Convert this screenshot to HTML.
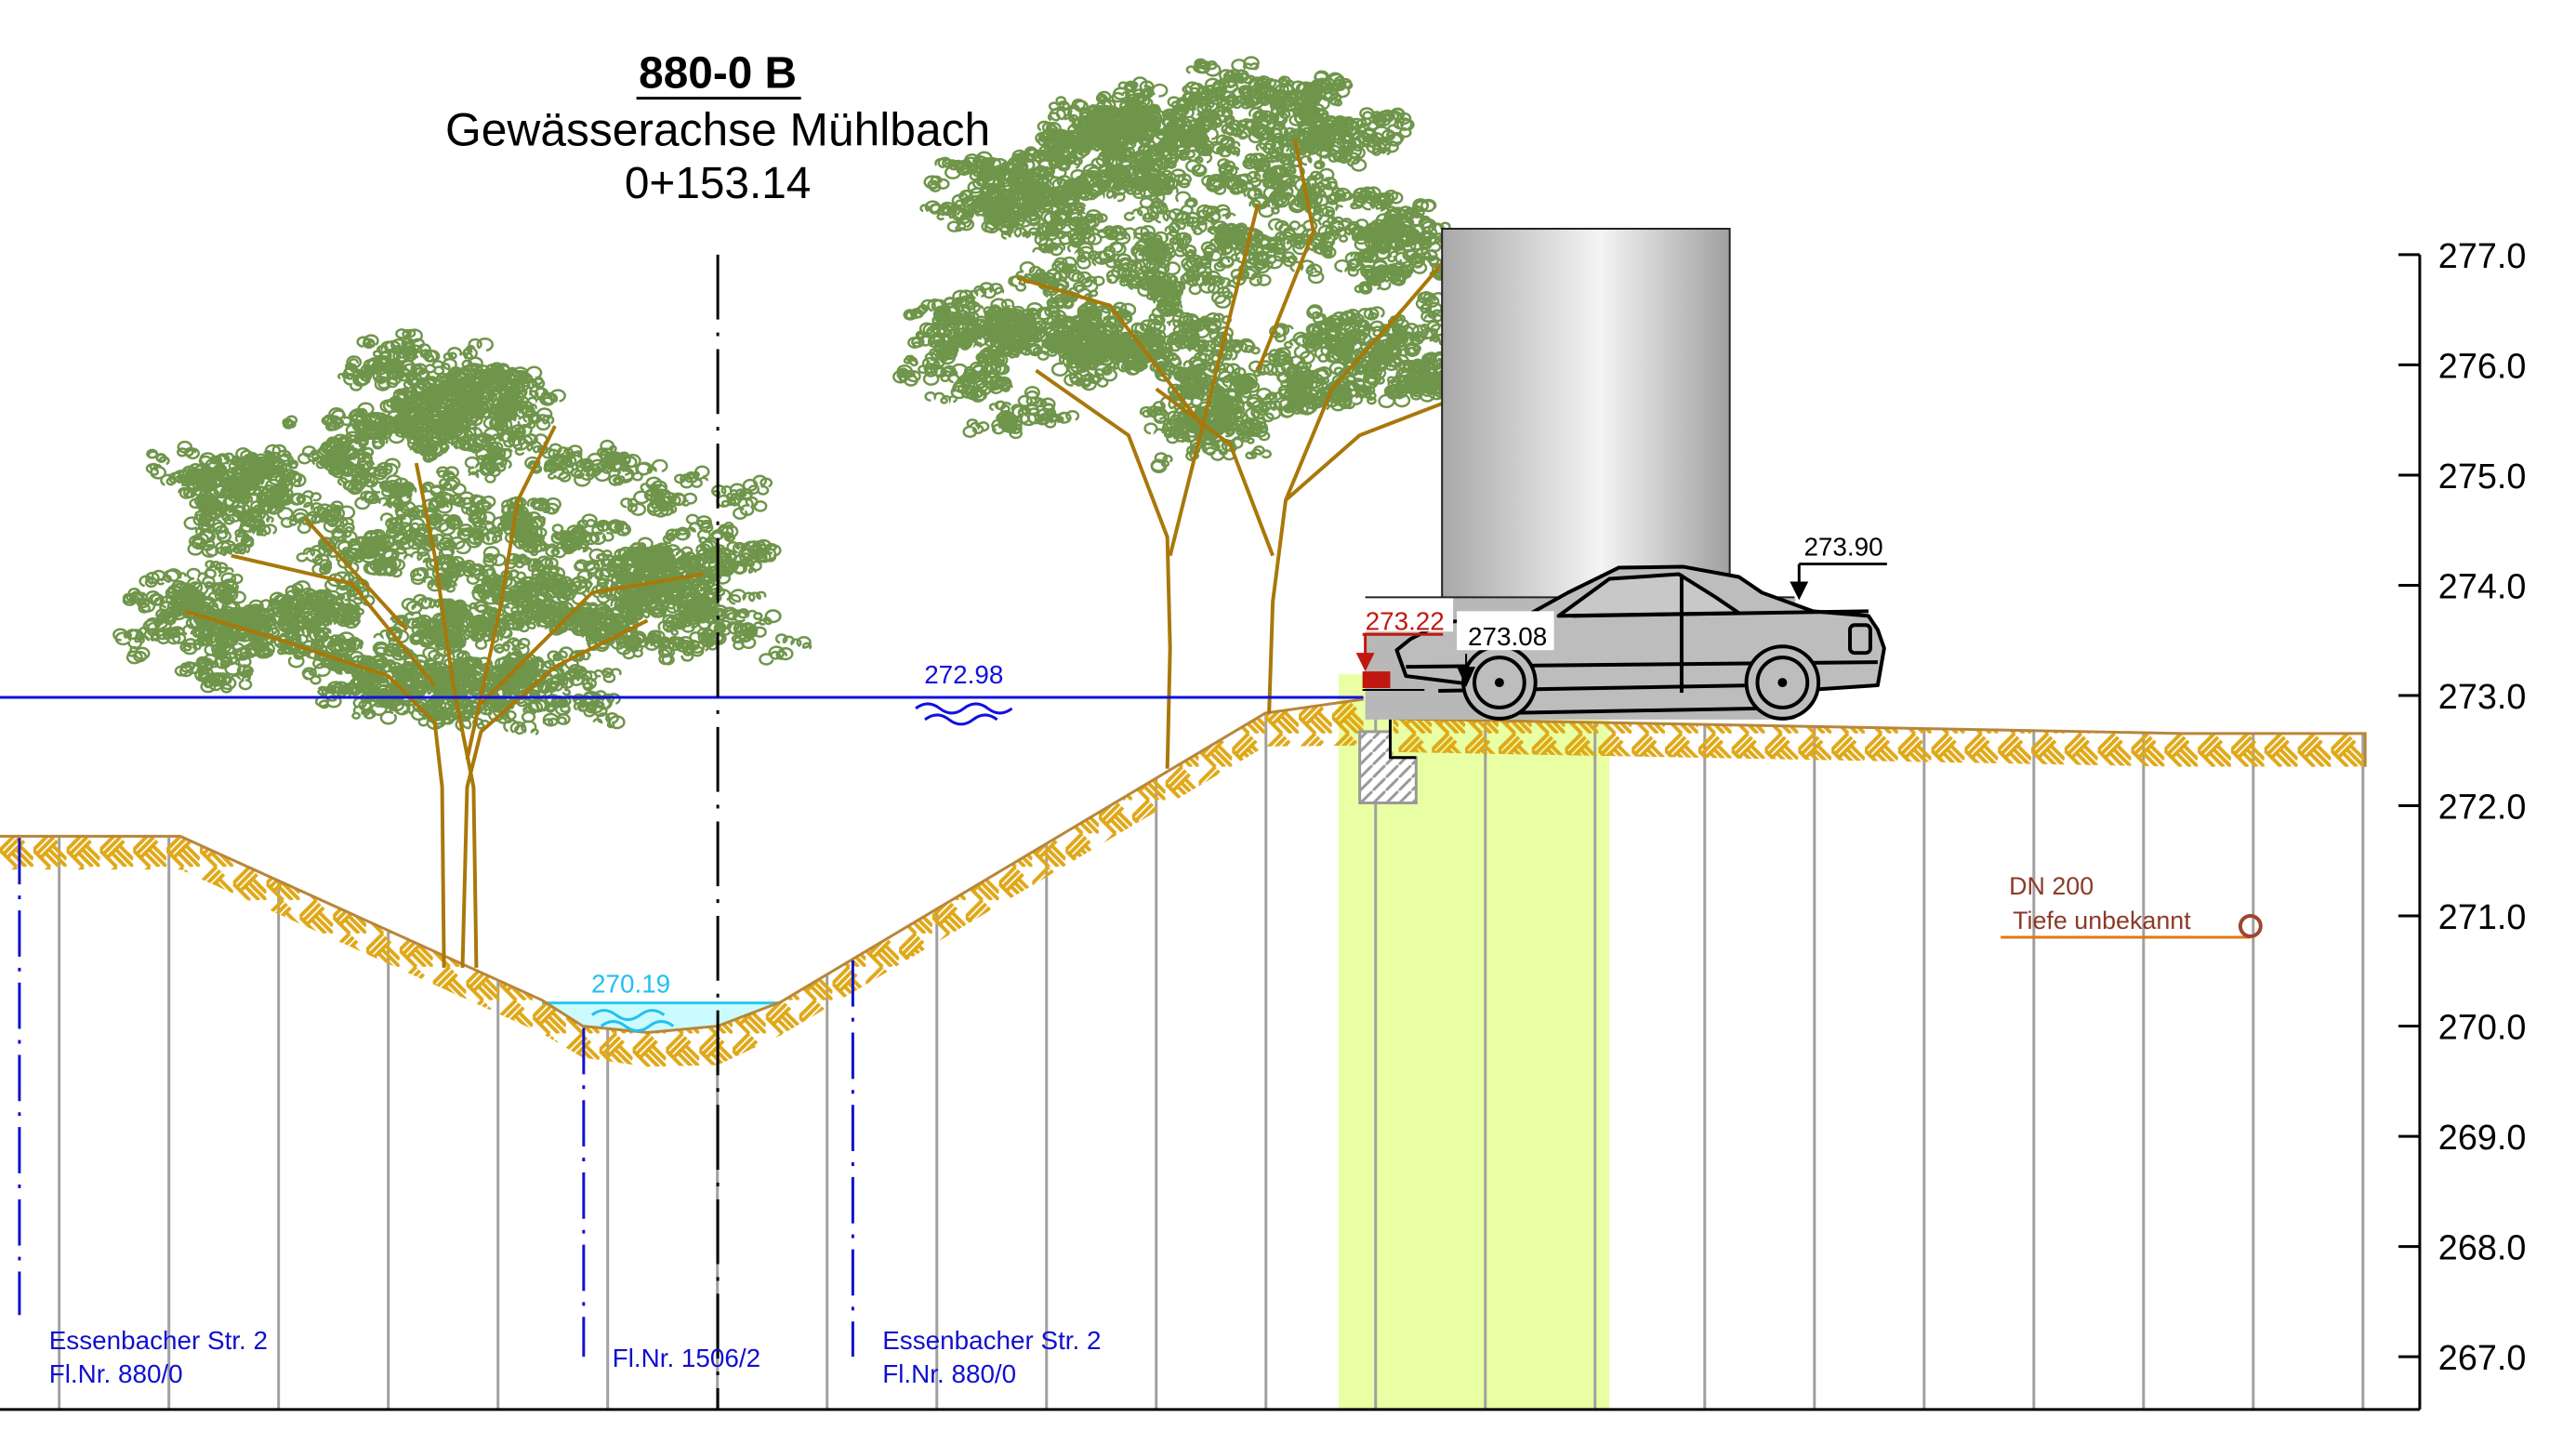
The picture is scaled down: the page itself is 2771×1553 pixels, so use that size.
<!DOCTYPE html>
<html><head><meta charset="utf-8">
<style>
html,body{margin:0;padding:0;background:#fff;}
svg{display:block;}
text{font-family:"Liberation Sans",sans-serif;}
</style></head>
<body>
<svg id="s" xmlns="http://www.w3.org/2000/svg" width="2771" height="1553" viewBox="0 0 2771 1553">
<defs>
<pattern id="hatch" width="36" height="36" patternUnits="userSpaceOnUse">
<g stroke="#e0a818" stroke-width="4" fill="none">
<path d="M0 18 L18 0 M4 22 L22 4 M8 26 L26 8"/>
<path d="M18 18 L36 36 M22 14 L36 28 M14 22 L28 36 M18 36 L0 18"/>
</g>
</pattern>
<pattern id="wallh" width="14" height="14" patternUnits="userSpaceOnUse">
<rect width="14" height="14" fill="#fff"/>
<path d="M0 14 L14 0" stroke="#999" stroke-width="3"/>
</pattern>
<linearGradient id="bld" x1="0" x2="1" y1="0" y2="0">
<stop offset="0" stop-color="#a8a8a8"/><stop offset="0.55" stop-color="#f4f4f4"/><stop offset="1" stop-color="#a0a0a0"/>
</linearGradient>
<clipPath id="band"><path d="M0 903 L195 903 L586 1080 L630 1108 L700 1115 L776 1108 L844 1082 L1368 770 L1474 755 L1474 820 L1506 820 L1506 776 L2360 792 L2557 792 L2557 828 L2360 828 L1506 812 L1474 805 L1368 806 L844 1118 L776 1150 L700 1152 L630 1142 L586 1116 L195 939 L0 939Z"/></clipPath>
</defs>
<g transform="scale(0.995 0.996)">
<rect x="1447" y="728" width="293" height="794" fill="#e9ffa3"/>
<g id="grid" stroke="#a0a0a0" stroke-width="3"></g>
<path d="M586 1083 L844 1083 L776 1108 L700 1115 L630 1108 Z" fill="#ccfbff"/>
<line x1="586" y1="1083" x2="844" y2="1083" stroke="#28c8f0" stroke-width="3"/>
<rect x="0" y="740" width="2600" height="420" fill="url(#hatch)" clip-path="url(#band)"/>
<path d="M0 903 L195 903 L586 1080 L630 1108 L700 1115 L776 1108 L844 1082 L1368 770 L1474 755" fill="none" stroke="#b8863b" stroke-width="3"/>
<path d="M1506 776 L2360 792 L2557 792 L2557 828" fill="none" stroke="#b8863b" stroke-width="3"/>
<g id="trees"></g>
<line x1="0" y1="753" x2="1474" y2="753" stroke="#1010e0" stroke-width="3"/>
<text x="1042" y="738" font-size="28" fill="#1010e0" text-anchor="middle">272.98</text>
<path d="M990 765 q13 -10 26 0 t26 0 t26 0 t26 0 M1000 777 q13 -10 26 0 t26 0 t26 0" fill="none" stroke="#1010e0" stroke-width="3"/>
<text x="682" y="1072" font-size="28" fill="#20c0f0" text-anchor="middle">270.19</text>
<path d="M640 1096 q13 -10 26 0 t26 0 t26 0 M650 1108 q13 -10 26 0 t26 0 t26 0" fill="none" stroke="#20c0f0" stroke-width="3"/>
<line x1="776" y1="275" x2="776" y2="1522" stroke="#000" stroke-width="3" stroke-dasharray="70 14 4 14"/>
<g stroke="#1010d0" stroke-width="3" stroke-dasharray="50 12 4 12">
<line x1="21" y1="905" x2="21" y2="1420"/>
<line x1="631" y1="1110" x2="631" y2="1465"/>
<line x1="922" y1="1037" x2="922" y2="1465"/>
</g>
<g fill="#1010d0" font-size="28">
<text x="53" y="1457">Essenbacher Str. 2</text>
<text x="53" y="1493">Fl.Nr. 880/0</text>
<text x="662" y="1476">Fl.Nr. 1506/2</text>
<text x="954" y="1457">Essenbacher Str. 2</text>
<text x="954" y="1493">Fl.Nr. 880/0</text>
</g>
<rect x="1559" y="247" width="311" height="400" fill="url(#bld)" stroke="#222" stroke-width="2"/>
<rect x="1476" y="645" width="465" height="132" fill="#b8b8b8"/>
<line x1="1476" y1="645" x2="1940" y2="645" stroke="#222" stroke-width="2"/>
<g stroke="#000" stroke-width="4" fill="#bdbdbd" stroke-linejoin="round">
<path d="M1510 702 L1520 730 L1600 740 L1620 770 L1900 765 L1955 745 L2030 740 L2037 700 L2030 680 L2020 665 L1960 660 L1905 640 L1880 623 L1820 612 L1750 613 L1695 640 L1650 665 L1560 672 L1525 690 Z"/>
<path d="M1685 665 L1740 625 L1815 620 L1855 645 L1880 662 Z" fill="#c8c8c8"/>
<path d="M1520 720 L2030 715 M1555 746 L1900 740 M1700 665 L2020 660" fill="none"/>
<line x1="1818" y1="620" x2="1818" y2="748" fill="none"/>
<rect x="2000" y="675" width="22" height="30" rx="5" fill="none"/>
<circle cx="1621" cy="737" r="39"/>
<circle cx="1621" cy="737" r="27"/>
<circle cx="1927" cy="737" r="39"/>
<circle cx="1927" cy="737" r="27"/>
</g>
<circle cx="1621" cy="737" r="5"/><circle cx="1927" cy="737" r="5"/>
<path d="M1470 790 L1503 790 L1503 818 L1531 818 L1531 867 L1470 867 Z" fill="url(#wallh)" stroke="#999" stroke-width="3"/>
<path d="M1503 777 L1503 818 L1531 818" fill="none" stroke="#000" stroke-width="3"/>
<rect x="1473" y="725" width="30" height="18" fill="#c01810"/>
<line x1="1473" y1="745" x2="1540" y2="745" stroke="#000" stroke-width="2"/>
<rect x="1471" y="646" width="100" height="36" fill="#fff"/>
<text x="1476" y="680" font-size="28" fill="#c01810">273.22</text>
<path d="M1473 685 L1560 685 M1476 685 L1476 712" stroke="#c01810" stroke-width="3" fill="none"/>
<path d="M1466 705 L1486 705 L1476 725 Z" fill="#c01810"/>
<rect x="1575" y="660" width="105" height="42" fill="#fff"/>
<text x="1587" y="697" font-size="28" fill="#000">273.08</text>
<path d="M1585 706 L1585 740" stroke="#000" stroke-width="2"/>
<path d="M1575 720 L1595 720 L1585 742 Z"/>
<text x="1993" y="600" font-size="28" fill="#000" text-anchor="middle">273.90</text>
<path d="M1945 609 L2040 609 M1945 609 L1945 630" stroke="#000" stroke-width="3" fill="none"/>
<path d="M1935 628 L1955 628 L1945 648 Z"/>
<text x="2172" y="966" font-size="27" fill="#8b3a28">DN 200</text>
<text x="2176" y="1003" font-size="27" fill="#8b3a28">Tiefe unbekannt</text>
<line x1="2163" y1="1012" x2="2433" y2="1012" stroke="#e07810" stroke-width="3"/>
<circle cx="2433" cy="1000" r="11" fill="none" stroke="#a04430" stroke-width="4"/>
<line x1="2616" y1="275" x2="2616" y2="1522" stroke="#000" stroke-width="3"/>
<line x1="0" y1="1522" x2="2616" y2="1522" stroke="#000" stroke-width="3"/>
<g id="axis" font-size="38" fill="#000"></g>
<text x="776" y="95" font-size="48" font-weight="bold" text-anchor="middle">880-0 B</text>
<line x1="688" y1="106" x2="866" y2="106" stroke="#000" stroke-width="3"/>
<text x="776" y="157" font-size="50" text-anchor="middle">Gewässerachse Mühlbach</text>
<text x="776" y="214" font-size="48" text-anchor="middle">0+153.14</text>
</g>
</svg>
<script>
(function(){
var NS="http://www.w3.org/2000/svg";
function el(n,a,p){var e=document.createElementNS(NS,n);for(var k in a)e.setAttribute(k,a[k]);p.appendChild(e);return e;}
var grid=document.getElementById("grid");
function groundY(x){
 var pts=[[0,903],[195,903],[586,1080],[630,1108],[700,1115],[776,1108],[844,1082],[1368,770],[1474,755],[1506,776],[2360,792],[2557,792]];
 for(var i=0;i<pts.length-1;i++){if(x>=pts[i][0]&&x<=pts[i+1][0]){var t=(x-pts[i][0])/(pts[i+1][0]-pts[i][0]);return pts[i][1]+t*(pts[i+1][1]-pts[i][1]);}}
 return 792;}
for(var i=0;i<22;i++){var x=64+118.6*i;el("line",{x1:x,y1:groundY(x),x2:x,y2:1522},grid);}
var ax=document.getElementById("axis");
for(var m=0;m<=10;m++){var y=1465-m*119;el("line",{x1:2593,y1:y,x2:2616,y2:y,stroke:"#000","stroke-width":3},ax);
 var t=el("text",{x:2636,y:y+14},ax);t.textContent=(267+m)+".0";}
var seed=7;function r(){seed=(seed*16807)%2147483647;return seed/2147483647;}
var tr=document.getElementById("trees");
var cg=el("g",{fill:"none",stroke:"#6f954a","stroke-width":2.5},tr);
var bg=el("g",{fill:"none",stroke:"#a8780a","stroke-width":4},tr);
function trunk(d){el("path",{d:d},bg);}
trunk("M480 1045 L478 850 L470 780 L420 730 L300 690 L200 660");trunk("M500 1045 L505 850 L520 790 L600 720 L700 670");
trunk("M515 1045 L512 850 L490 740 L470 600 L450 500");trunk("M505 820 L540 660 L560 540 L600 460");trunk("M470 740 L380 630 L250 600");
trunk("M520 760 L640 640 L760 620");trunk("M440 680 L330 560");
trunk("M1262 830 L1265 700 L1262 580 L1220 470 L1120 400");trunk("M1265 600 L1300 460 L1330 340 L1360 220");
trunk("M1372 770 L1376 650 L1390 540 L1440 420 L1520 330 L1580 260");trunk("M1376 600 L1330 480 L1250 420");
trunk("M1390 540 L1470 470 L1600 420");trunk("M1300 460 L1200 330 L1100 300");trunk("M1360 400 L1420 250 L1400 150");
function cluster(cx,cy,rx,ry,n){
 for(var i=0;i<n;i++){var a=r()*6.283,d=Math.sqrt(r());var x=cx+Math.cos(a)*rx*d,y=cy+Math.sin(a)*ry*d;
  var p="M"+x.toFixed(1)+" "+y.toFixed(1);
  for(var j=0;j<5;j++){var rr=3+r()*5;p+=" a"+rr.toFixed(1)+" "+(rr*0.8).toFixed(1)+" 0 1 1 "+(r()*12-3).toFixed(1)+" "+(r()*6-3).toFixed(1);}
  el("path",{d:p},cg);}
}
function canopy(cx,cy,rx,ry,k,dens){
 for(var i=0;i<k;i++){var a=r()*6.283,d=Math.sqrt(r());
  var x=cx+Math.cos(a)*rx*d,y=cy+Math.sin(a)*ry*d;var s=25+r()*35;cluster(x,y,s,s*0.55,dens);}
}
canopy(470,600,330,170,75,9);canopy(250,690,130,55,14,7);canopy(720,660,110,60,14,7);canopy(480,430,120,50,16,8);canopy(500,745,200,30,12,6);
canopy(1270,300,290,190,80,9);canopy(1130,380,120,40,14,7);canopy(1340,130,160,60,20,8);canopy(1600,380,120,60,16,7);canopy(1640,320,60,40,8,7);
})();
</script>
</body></html>
